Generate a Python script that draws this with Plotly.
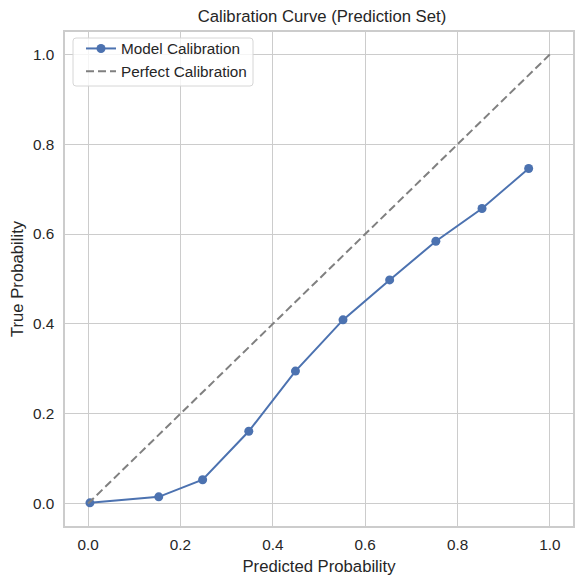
import plotly.graph_objects as go

pred_prob = [0.004, 0.153, 0.248, 0.348, 0.449, 0.552, 0.653, 0.753, 0.853, 0.954]
true_prob = [0.0015, 0.015, 0.053, 0.161, 0.295, 0.409, 0.498, 0.584, 0.657, 0.746]
perfect_x = [0.0, 1.0]
perfect_y = [0.0, 1.0]
tick_vals = [0.0, 0.2, 0.4, 0.6, 0.8, 1.0]
tick_text = ["0.0", "0.2", "0.4", "0.6", "0.8", "1.0"]

FONT = "Liberation Sans, Arial, DejaVu Sans, sans-serif"
TXT = "#262626"

# page has an 8px body margin, so the figure is 576x576 placed at (8, 8)
W, H = 576, 576
ML, MR, MT, MB = 57, 11, 24, 58
PW, PH = W - ML - MR, H - MT - MB

fig = go.Figure()
fig.add_trace(go.Scatter(
    x=pred_prob, y=true_prob, mode="lines+markers", name="Model Calibration",
    line=dict(color="#4c72b0", width=2), marker=dict(color="#4c72b0", size=9),
))
fig.add_trace(go.Scatter(
    x=perfect_x, y=perfect_y, mode="lines", name="Perfect Calibration",
    line=dict(color="#808080", width=2, dash="8px,4px"),
))

axis_common = dict(
    range=[-0.05, 1.05], tickvals=tick_vals, ticktext=tick_text,
    showgrid=True, gridcolor="#cccccc", gridwidth=1.2,
    showline=True, mirror=True, linecolor="#cccccc", linewidth=1.5,
    zeroline=False, ticks="", automargin=False,
    tickfont=dict(family=FONT, size=15.3, color=TXT),
)

# legend frame (rounded rectangle) in paper coords
def px(x):
    return (x - ML) / PW

def py(y):
    return 1 - (y - MT) / PH

x0, x1, y0, y1, r = 65, 245, 30, 78, 3
path = (f"M {px(x0 + r)} {py(y0)} L {px(x1 - r)} {py(y0)} "
        f"Q {px(x1)} {py(y0)} {px(x1)} {py(y0 + r)} L {px(x1)} {py(y1 - r)} "
        f"Q {px(x1)} {py(y1)} {px(x1 - r)} {py(y1)} L {px(x0 + r)} {py(y1)} "
        f"Q {px(x0)} {py(y1)} {px(x0)} {py(y1 - r)} L {px(x0)} {py(y0 + r)} "
        f"Q {px(x0)} {py(y0)} {px(x0 + r)} {py(y0)} Z")

fig.update_layout(
    width=W, height=H,
    margin=dict(l=ML, r=MR, t=MT, b=MB),
    paper_bgcolor="white", plot_bgcolor="white",
    title=dict(text="Calibration Curve (Prediction Set)", x=0.545, xanchor="center",
               y=1 - 8.5 / H, yanchor="middle",
               font=dict(family=FONT, size=16.7, color=TXT)),
    xaxis=dict(axis_common, ticklabelstandoff=4,
               title=dict(text="Predicted Probability", standoff=8,
                          font=dict(family=FONT, size=16.7, color=TXT))),
    yaxis=dict(axis_common, ticklabelstandoff=6,
               title=dict(text="True Probability", standoff=9,
                          font=dict(family=FONT, size=16.7, color=TXT))),
    legend=dict(x=px(73), y=py(24), xanchor="left", yanchor="top",
                bgcolor="rgba(0,0,0,0)", borderwidth=0,
                font=dict(family=FONT, size=15.3, color=TXT), tracegroupgap=0,
                itemwidth=30),
    shapes=[dict(type="path", path=path, xref="paper", yref="paper",
                 fillcolor="rgba(255,255,255,0.8)",
                 line=dict(color="#d6d6d6", width=1), layer="above")],
    showlegend=True,
)

fig.write_html("out.html")
